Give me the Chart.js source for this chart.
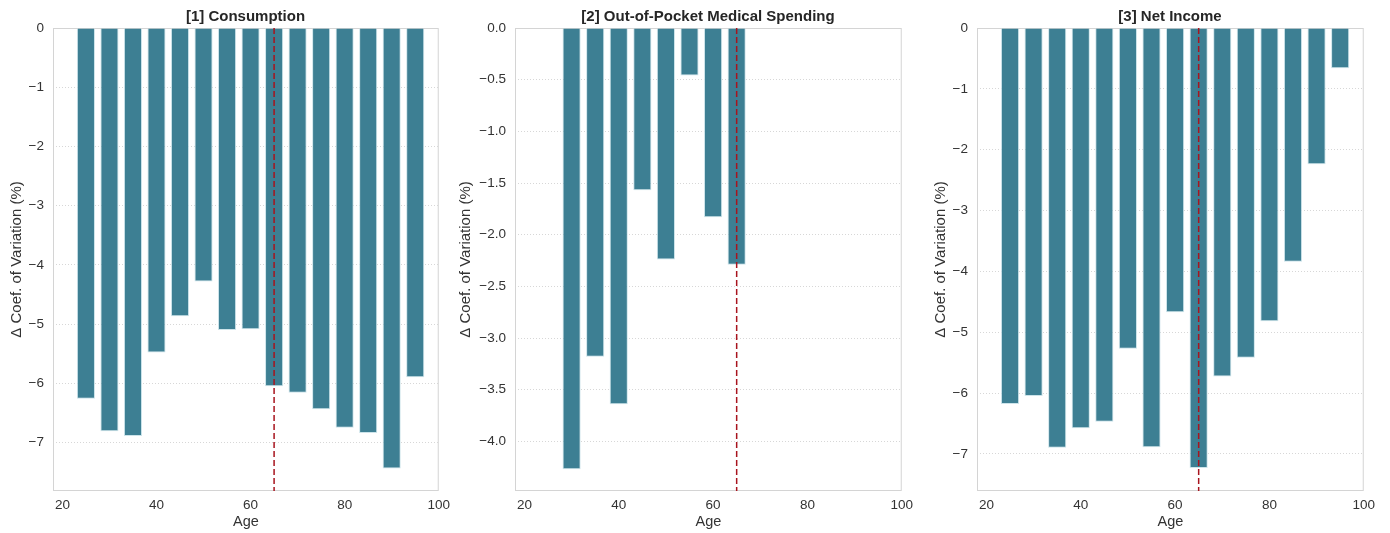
<!DOCTYPE html>
<html>
<head>
<meta charset="utf-8">
<script src="https://cdn.jsdelivr.net/npm/chart.js@4"></script>
<style>
  html, body { margin: 0; padding: 0; background: #fff; }
  #wrap { position: relative; width: 1390px; height: 533px; font-family: "Liberation Sans", Arial, sans-serif; }
  .panel { position: absolute; top: 0; height: 533px; }
  .ttl { position: absolute; top: 7px; text-align: center;
         font-weight: bold; font-size: 15px; color: #262626; }
</style>
</head>
<body>
<div id="wrap">
  <div class="panel" style="left:0px;width:456px"><div class="ttl" style="left:53px;width:385px">[1] Consumption</div><canvas id="c1"></canvas></div>
  <div class="panel" style="left:449px;width:470px"><div class="ttl" style="left:66px;width:386px">[2] Out-of-Pocket Medical Spending</div><canvas id="c2"></canvas></div>
  <div class="panel" style="left:924px;width:457px"><div class="ttl" style="left:53px;width:386px">[3] Net Income</div><canvas id="c3"></canvas></div>
</div>
<script>
// ages of the bars
var agesAll = [25, 30, 35, 40, 45, 50, 55, 60, 65, 70, 75, 80, 85, 90, 95]
var agesMed = [30, 35, 40, 45, 50, 55, 60, 65]

// change in coefficient of variation (%)
var consumption = [-6.26, -6.81, -6.89, -5.48, -4.87, -4.28, -5.10, -5.09, -6.05, -6.16, -6.44, -6.75, -6.84, -7.44, -5.90]
var medical = [-4.27, -3.18, -3.64, -1.57, -2.24, -0.46, -1.83, -2.29]
var netIncome = [-6.18, -6.05, -6.90, -6.58, -6.47, -5.27, -6.89, -4.67, -7.23, -5.73, -5.42, -4.82, -3.84, -2.24, -0.66]

// axes
var xTicks = [20, 40, 60, 80, 100]
var yTicks1 = [0, -1, -2, -3, -4, -5, -6, -7]
var yTicks2 = [0, -0.5, -1.0, -1.5, -2.0, -2.5, -3.0, -3.5, -4.0]
var yTicks3 = [0, -1, -2, -3, -4, -5, -6, -7]
var retireAge = [65]

var barColor = '#3d7f93'

// frame + dashed retirement line
var framePlugin = {
    id: 'frame',
    beforeDatasetsDraw: function (chart) {
        var a = chart.chartArea, ctx = chart.ctx
        ctx.save()
        ctx.strokeStyle = '#d4d4d4'
        ctx.lineWidth = 1
        ctx.strokeRect(a.left + 0.5, a.top + 0.5, a.right - a.left - 1, a.bottom - a.top - 1)
        ctx.restore()
    },
    afterDatasetsDraw: function (chart) {
        var a = chart.chartArea, ctx = chart.ctx
        var x = chart.scales.x.getPixelForValue(retireAge[0])
        ctx.save()
        ctx.strokeStyle = '#a8141e'
        ctx.lineWidth = 1.5
        ctx.setLineDash([6, 3])
        ctx.beginPath()
        ctx.moveTo(x, a.top)
        ctx.lineTo(x, a.bottom)
        ctx.stroke()
        ctx.restore()
    }
}

function minus(v, dec) {
    var s = Math.abs(v).toFixed(dec)
    return v < 0 ? '\u2212' + s : s
}

function makeChart(id, ages, vals, yTicks, yMin, dec, yWidth, w) {
    var cv = document.getElementById(id)
    cv.width = w
    cv.height = 533
    var pts = ages.map(function (a, i) { return { x: a, y: vals[i] } })
    new Chart(cv, {
        type: 'bar',
        data: {
            datasets: [{
                data: pts,
                backgroundColor: barColor,
                borderColor: 'rgba(200,225,232,0.9)',
                borderWidth: 1,
                borderSkipped: 'start',
                barPercentage: 1,
                categoryPercentage: 0.77
            }]
        },
        options: {
            responsive: false,
            animation: false,
            layout: { padding: { top: 28, right: 0, left: 0, bottom: 0 } },
            plugins: { legend: { display: false }, tooltip: { enabled: false } },
            scales: {
                x: {
                    type: 'linear',
                    min: 18,
                    max: 100,
                    offset: false,
                    afterBuildTicks: function (s) { s.ticks = xTicks.map(function (v) { return { value: v } }) },
                    afterFit: function (s) { s.height = 42 },
                    grid: { display: false, drawTicks: false },
                    border: { display: false },
                    ticks: { color: '#333', padding: 6, font: { family: 'Liberation Sans', size: 13.5 } },
                    title: { display: true, text: 'Age', color: '#333', padding: { top: 0, bottom: 2 },
                             font: { family: 'Liberation Sans', size: 14.5 } }
                },
                y: {
                    min: yMin,
                    max: 0,
                    afterBuildTicks: function (s) { s.ticks = yTicks.map(function (v) { return { value: v } }) },
                    afterFit: function (s) { s.width = yWidth },
                    grid: { color: '#cdcdcd', lineWidth: 0.8, drawTicks: false },
                    border: { display: false, dash: [1, 2] },
                    ticks: {
                        color: '#333', padding: 9, font: { family: 'Liberation Sans', size: 13.5 },
                        callback: function (v) { return minus(v, dec) }
                    },
                    title: { display: true, text: '\u0394 Coef. of Variation (%)', color: '#333',
                             padding: { top: 8, bottom: 0 }, font: { family: 'Liberation Sans', size: 15 } }
                }
            }
        },
        plugins: [framePlugin]
    })
}

makeChart('c1', agesAll, consumption, yTicks1, -7.82, 0, 53, 456)
makeChart('c2', agesMed, medical, yTicks2, -4.48, 1, 66, 470)
makeChart('c3', agesAll, netIncome, yTicks3, -7.61, 0, 53, 457)
</script>
</body>
</html>
